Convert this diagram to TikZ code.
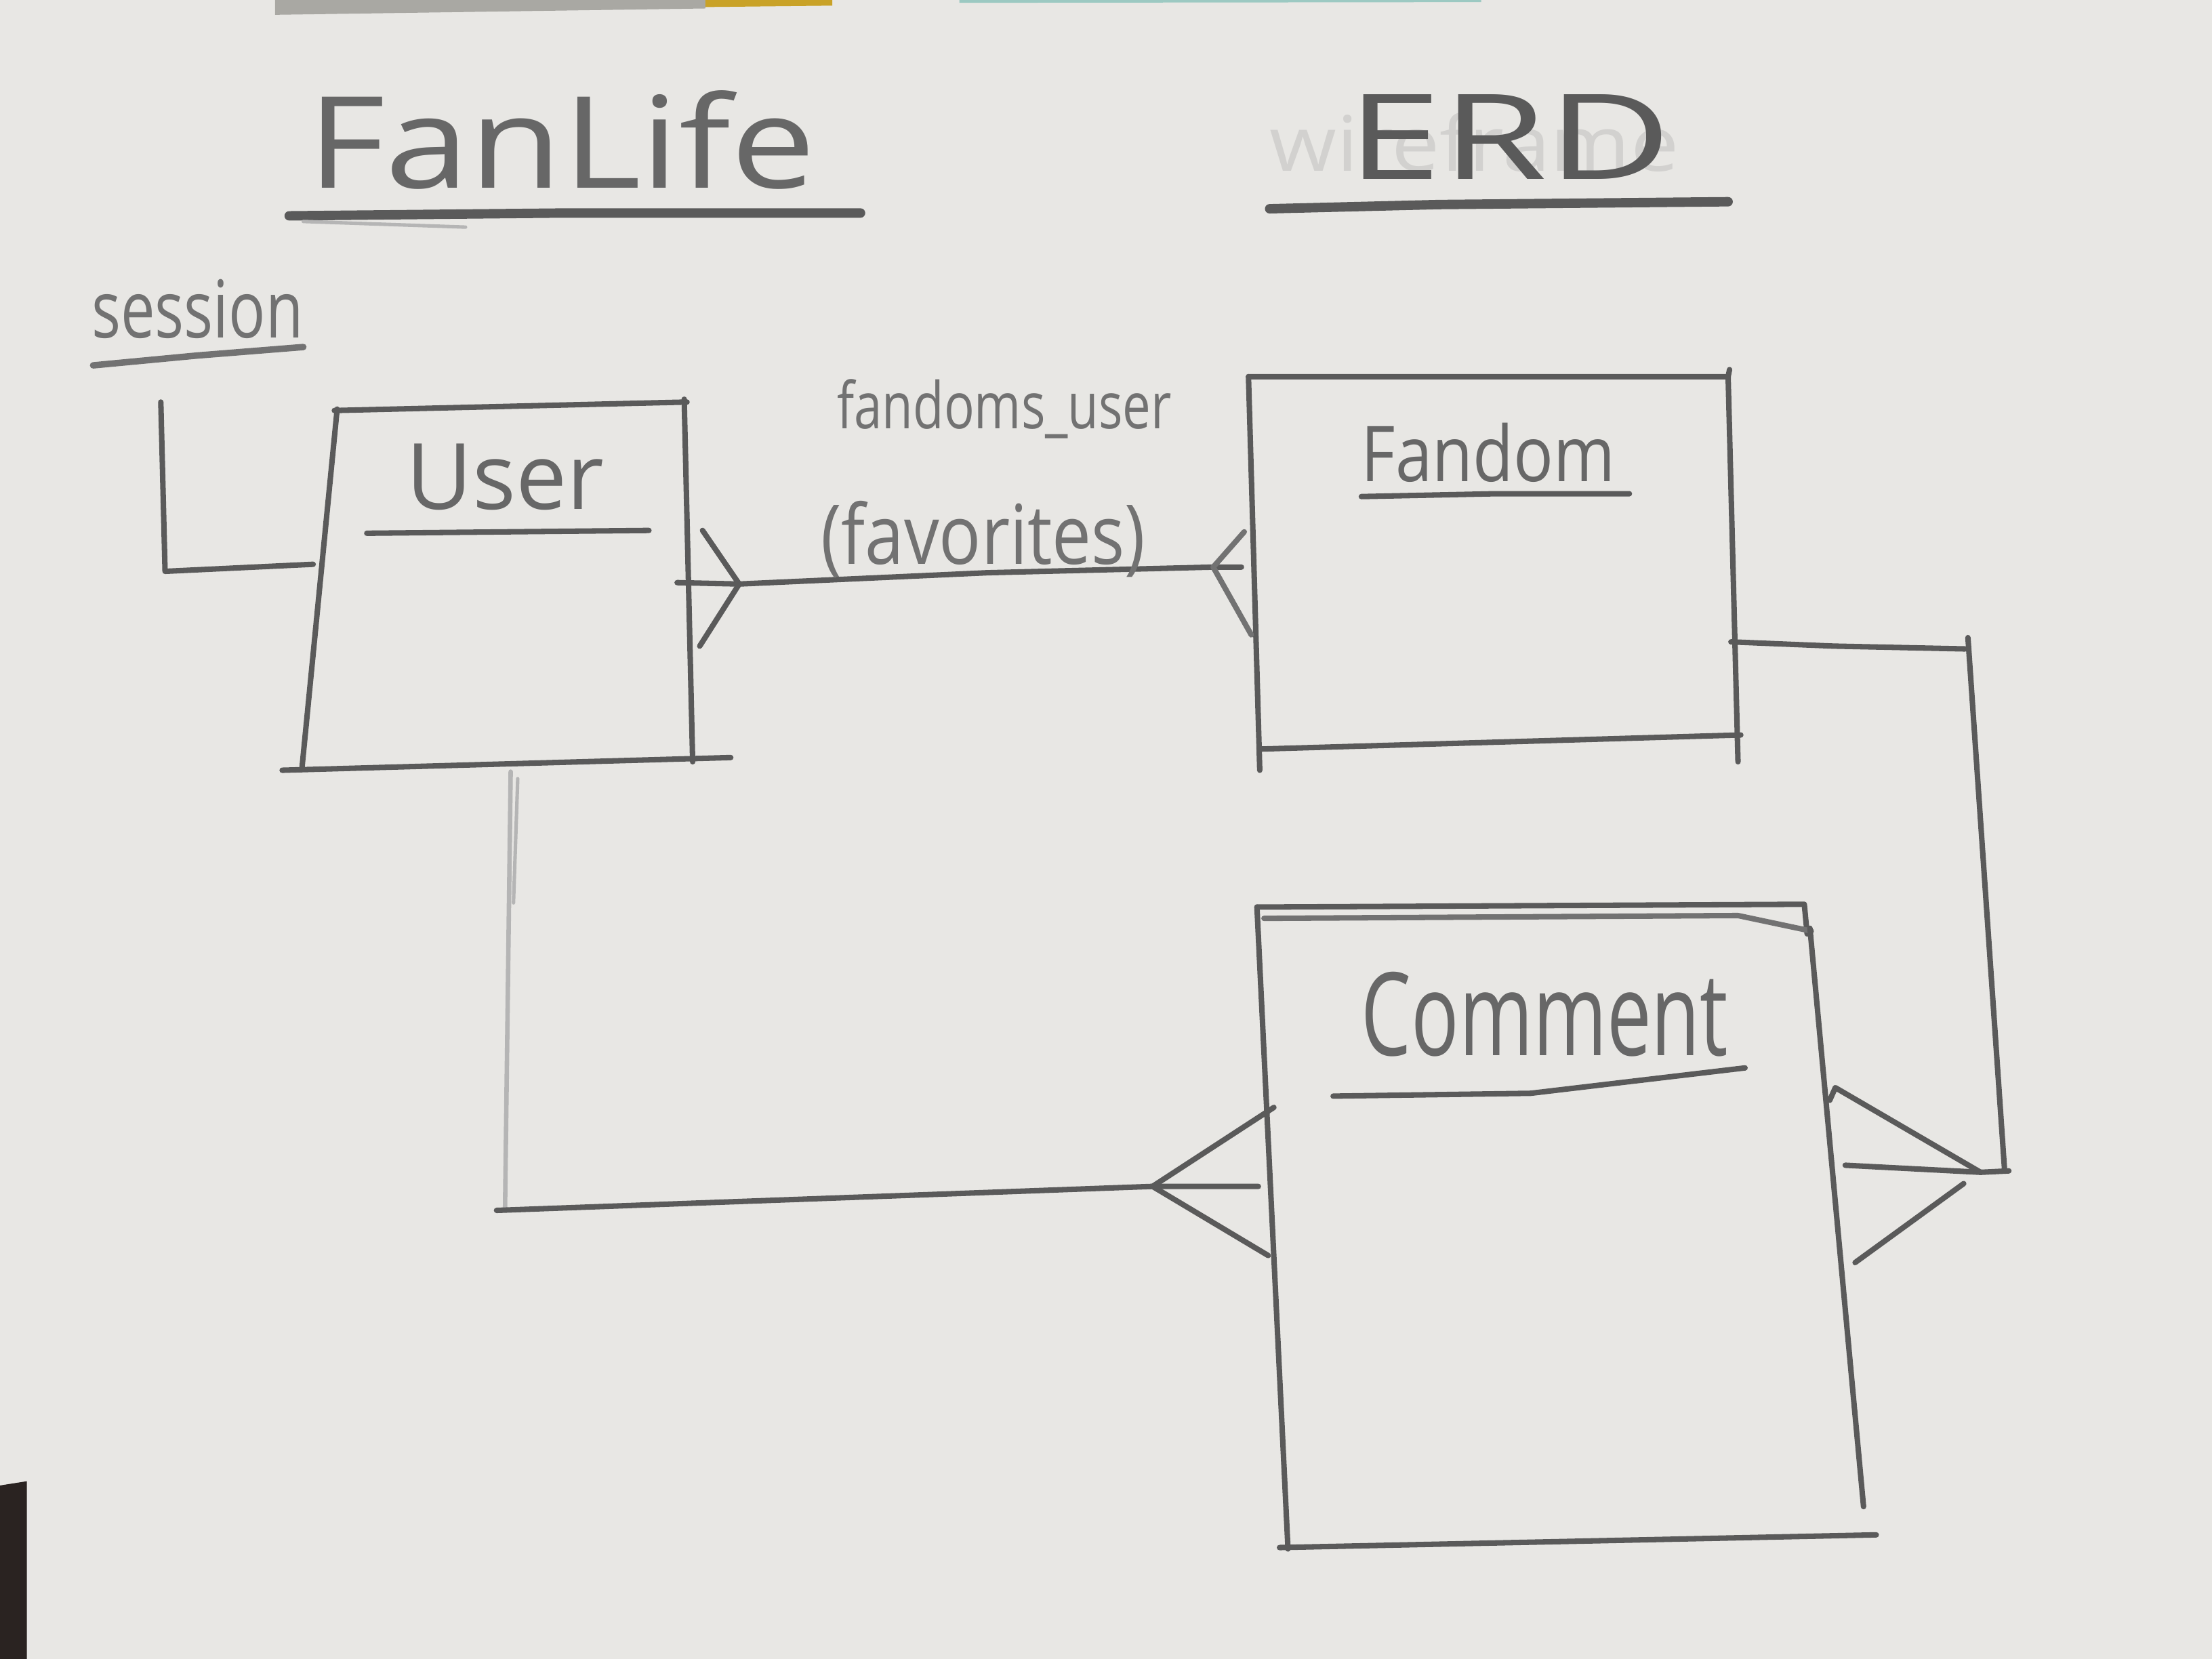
\documentclass[tikz,border=0pt]{standalone}
\usepackage{fontspec}
\setmainfont{Open Sans}
\usepackage{graphicx}
\definecolor{paper}{HTML}{E8E7E4}
\definecolor{pencil}{HTML}{5A5A5A}
\definecolor{textpencil}{HTML}{676767}
\definecolor{softpencil}{HTML}{727272}
\definecolor{faintpencil}{HTML}{D2D1CF}
\definecolor{edgegray}{HTML}{A9A8A3}
\definecolor{edgeyellow}{HTML}{C9A227}
\definecolor{edgeteal}{HTML}{9CC9C2}
\definecolor{edgedark}{HTML}{2A2321}
\newcommand{\hw}[3]{\resizebox*{#1cm}{#2cm}{#3}}
\tikzset{
  pen/.style={draw=pencil, line width=1.1pt, line cap=round, line join=round},
  heavy/.style={pen, line width=1.9pt},
  soft/.style={pen, draw=softpencil, line width=0.9pt},
  faintline/.style={pen, draw=pencil!45, line width=0.7pt},
  lbl/.style={inner sep=0pt, outer sep=0pt, text=textpencil},
}
\begin{document}
\begin{tikzpicture}[x=0.01cm,y=-0.01cm]
\useasboundingbox (0,0) rectangle (1568,1176);
\fill[paper] (0,0) rectangle (1568,1176);
% photo edges
\fill[edgegray] (195,0) -- (500,0) -- (500,6) -- (195,10.5) -- cycle;
\fill[edgeyellow] (500,0) -- (590,0) -- (590,4) -- (500,5) -- cycle;
\fill[edgeteal] (680,0) -- (1050,0) -- (1050,1.5) -- (680,2) -- cycle;
\fill[edgedark] (0,1053) -- (19,1050) -- (19,1176) -- (0,1176) -- cycle;

% ---------- titles ----------
\node[lbl] (title) at (398,99) {\hw{3.6}{0.7}{FanLife}};
\draw[heavy] (205,153) -- (400,151) -- (610,151);
\draw[faintline] (215,157) -- (330,161);

% faint erased word beneath ERD
\node[lbl, text=faintpencil] (oldtitle) at (1045,101) {\hw{2.9}{0.42}{wireframe}};
\node[lbl, text=pencil] (erd) at (1070,97) {\hw{2.3}{0.6}{ERD}};
\draw[heavy] (900,148) -- (1020,145) -- (1225,143);

% ---------- session ----------
\node[lbl, text=softpencil] (session) at (140,219) {\hw{1.5}{0.42}{session}};
\draw[soft, line width=1.3pt] (66,259) -- (140,252) -- (215,246);
\coordinate (sesTop) at (114,285);
\coordinate (sesCorner) at (117,405);
\coordinate (sesEnd) at (222,400);
\draw[pen] (sesTop) -- (sesCorner) -- (sesEnd);

% ---------- User ----------
\coordinate (uTL) at (239,290);
\coordinate (uTR) at (487,285);
\coordinate (uBL) at (214,545);
\coordinate (uBR) at (491,540);
\draw[pen] (237,291) -- (uTR);
\draw[pen] (uTL) -- (uBL);
\draw[pen] (485,283) -- (uBR);
\draw[pen] (200,546) -- (518,537);
\node[lbl] (userT) at (358,338) {\hw{1.4}{0.47}{User}};
\draw[pen] (260,378) -- (360,377) -- (460,376);

% ---------- Fandom ----------
\coordinate (fTL) at (885,267);
\coordinate (fTR) at (1225,267);
\coordinate (fBL) at (893,546);
\coordinate (fBR) at (1232,540);
\draw[pen] (fTL) -- (fTR) -- (1226,262);
\draw[pen] (fTL) -- (fBL);
\draw[pen] (fTR) -- (fBR);
\draw[pen] (893,531) -- (1234,521);
\node[lbl] (fandomT) at (1055,321) {\hw{1.8}{0.42}{Fandom}};
\draw[pen] (965,352) -- (1060,350) -- (1155,350);

% ---------- Comment ----------
\coordinate (cTL) at (891,643);
\coordinate (cTR) at (1279,641);
\coordinate (cBL) at (913,1098);
\coordinate (cBR) at (1321,1068);
\draw[pen] (cTL) -- (cTR) -- (1281,662);
\draw[pen, draw=softpencil] (896,651) -- (1232,649) -- (1284,660);
\draw[pen] (cTL) -- (cBL);
\draw[pen] (1283,658) -- (cBR);
\draw[pen] (907,1097) -- (1330,1088);
\node[lbl] (commentT) at (1095,719) {\hw{2.6}{0.6}{Comment}};
\draw[pen] (945,777) -- (1085,775) -- (1237,757);

% ---------- User -- Fandom (fandoms_user) ----------
\coordinate (ufStart) at (480,413);
\coordinate (ufFootU) at (524,414);
\coordinate (ufFootF) at (860,402);
\coordinate (ufEnd) at (880,402);
\draw[pen] (ufStart) -- (ufFootU) -- (700,406) -- (ufFootF) -- (ufEnd);
\draw[pen] (498,376) -- (ufFootU) -- (496,458);
\draw[pen, draw=softpencil] (882,377) -- (ufFootF) -- (887,450);
\node[lbl, text=softpencil] (joinName) at (712,290) {\hw{2.37}{0.42}{fandoms\_user}};
\node[lbl, text=softpencil] (joinAlias) at (697,382) {\hw{2.3}{0.54}{(favorites)}};

% ---------- User -- Comment ----------
\coordinate (ucTop) at (362,547);
\coordinate (ucCorner) at (358,857);
\coordinate (ucFoot) at (817,841);
\coordinate (ucEnd) at (892,841);
\draw[faintline, line width=0.9pt] (ucTop) -- (ucCorner);
\draw[faintline] (367,552) -- (364,640);
\draw[pen] (352,858) -- (ucFoot) -- (ucEnd);
\draw[pen] (903,785) -- (ucFoot) -- (899,890);

% ---------- Fandom -- Comment ----------
\coordinate (fcStart) at (1227,455);
\coordinate (fcTurn) at (1393,460);
\coordinate (fcCorner) at (1421,830);
\coordinate (fcFoot) at (1404,831);
\coordinate (fcEnd) at (1308,826);
\draw[pen] (fcStart) -- (1300,458) -- (fcTurn);
\draw[pen] (1395,452) -- (fcCorner);
\draw[pen] (1424,830) -- (fcFoot) -- (fcEnd);
\draw[pen] (1297,780) -- (1301,771) -- (fcFoot);
\draw[pen] (1392,839) -- (1315,895);
\end{tikzpicture}
\end{document}
